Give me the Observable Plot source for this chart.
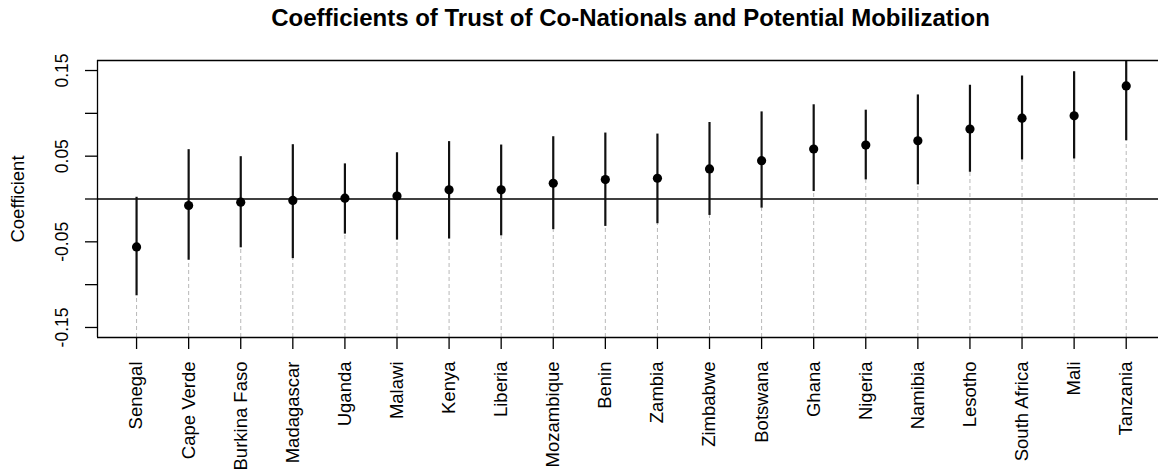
<!DOCTYPE html>
<html>
<head>
<meta charset="utf-8">
<script src="https://cdn.jsdelivr.net/npm/d3@7"></script>
<script src="https://cdn.jsdelivr.net/npm/@observablehq/plot@0.6"></script>
<style>
  html, body { margin: 0; padding: 0; background: #fff; overflow: hidden; width: 1158px; height: 476px; }
  #wrap { position: relative; width: 1158px; height: 476px; }
  #title { position: absolute; left: 0; top: 6px; width: 1261px; text-align: center;
    font-family: "Liberation Sans", Arial, sans-serif; font-weight: bold; font-size: 24px; line-height: 24px; color: #000; white-space: nowrap; }
  #chart { position: absolute; left: 0; top: 40px; }
</style>
</head>
<body>
<div id="wrap">
  <div id="title">Coefficients of Trust of Co-Nationals and Potential Mobilization</div>
  <div id="chart"></div>
</div>
<script>
const countries = ["Senegal", "Cape Verde", "Burkina Faso", "Madagascar", "Uganda", "Malawi", "Kenya", "Liberia", "Mozambique", "Benin", "Zambia", "Zimbabwe", "Botswana", "Ghana", "Nigeria", "Namibia", "Lesotho", "South Africa", "Mali", "Tanzania"];
const coef  = [-0.056, -0.0076, -0.0037, -0.0017, 0.001, 0.0035, 0.0107, 0.0107, 0.0184, 0.0227, 0.0242, 0.0351, 0.0448, 0.0584, 0.063, 0.068, 0.0816, 0.0944, 0.0971, 0.132];
const lower = [-0.113, -0.0715, -0.057, -0.0696, -0.041, -0.048, -0.0467, -0.043, -0.0358, -0.032, -0.0289, -0.0192, -0.0107, 0.0087, 0.0223, 0.0165, 0.0312, 0.0456, 0.0467, 0.068];
const upper = [0.002, 0.0576, 0.0494, 0.0634, 0.041, 0.054, 0.067, 0.063, 0.0727, 0.077, 0.0758, 0.0893, 0.1017, 0.110, 0.1037, 0.1215, 0.1328, 0.1436, 0.1486, 0.196];
const yTicks = [-0.15, -0.10, -0.05, 0, 0.05, 0.10, 0.15];
const yTickLabels = ["-0.15", "", "-0.05", "", "0.05", "", "0.15"];
const yLim = [-0.1617, 0.1617];
const xLim = [0.25, 20.62];

const rows = countries.map((c, i) => ({country: c, idx: i + 1, coef: coef[i], lower: lower[i], upper: upper[i]}));
const labelRows = yTicks.map((v, i) => ({v, label: yTickLabels[i]})).filter(d => d.label !== "");
const font = '"Liberation Sans", Arial, sans-serif';

const chart = Plot.plot({
  width: 1158,
  height: 436,
  marginTop: 20,
  marginBottom: 139,
  marginLeft: 97,
  marginRight: 0,
  style: {fontFamily: font, background: "#fff", color: "#000", overflow: "visible"},
  x: {domain: xLim},
  y: {domain: yLim},
  marks: [
    // dashed guides from frame bottom up to the lower CI bound
    Plot.ruleX(rows, {x: "idx", y1: yLim[0], y2: "lower", stroke: "#b8b8b8", strokeWidth: 1, strokeDasharray: "4,3"}),
    // zero line
    Plot.ruleY([0], {stroke: "#000", strokeWidth: 1.3}),
    // confidence intervals
    Plot.ruleX(rows, {x: "idx", y1: "lower", y2: "upper", stroke: "#111", strokeWidth: 2.2, clip: true}),
    Plot.dot(rows, {x: "idx", y: "coef", r: 4.6, fill: "#000", stroke: "none"}),
    // frame (top, bottom, left)
    Plot.ruleY(yLim, {stroke: "#000", strokeWidth: 1.3}),
    Plot.ruleX([xLim[0]], {stroke: "#000", strokeWidth: 1.3}),
    // axis ticks
    Plot.axisX({ticks: rows.map(d => d.idx), tickSize: 12, tickFormat: () => "", label: null, strokeWidth: 1.3}),
    Plot.axisY({ticks: yTicks, tickSize: 12, tickFormat: () => "", label: null, strokeWidth: 1.3}),
    // x tick labels
    Plot.text(rows, {x: "idx", y: () => yLim[0], text: "country", rotate: -90, textAnchor: "end", lineAnchor: "middle", dy: 24, fontSize: 18.5, fill: "#000"}),
    // y tick labels
    Plot.text(labelRows, {y: "v", text: "label", frameAnchor: "left", rotate: -90, textAnchor: "middle", lineAnchor: "middle", dx: -35, fontSize: 17.5, fill: "#000"}),
    // y axis title
    Plot.text(["Coefficient"], {frameAnchor: "left", text: d => d, rotate: -90, textAnchor: "middle", lineAnchor: "middle", dx: -79, fontSize: 18.5, fill: "#000"})
  ]
});
document.getElementById("chart").appendChild(chart);
</script>
</body>
</html>
